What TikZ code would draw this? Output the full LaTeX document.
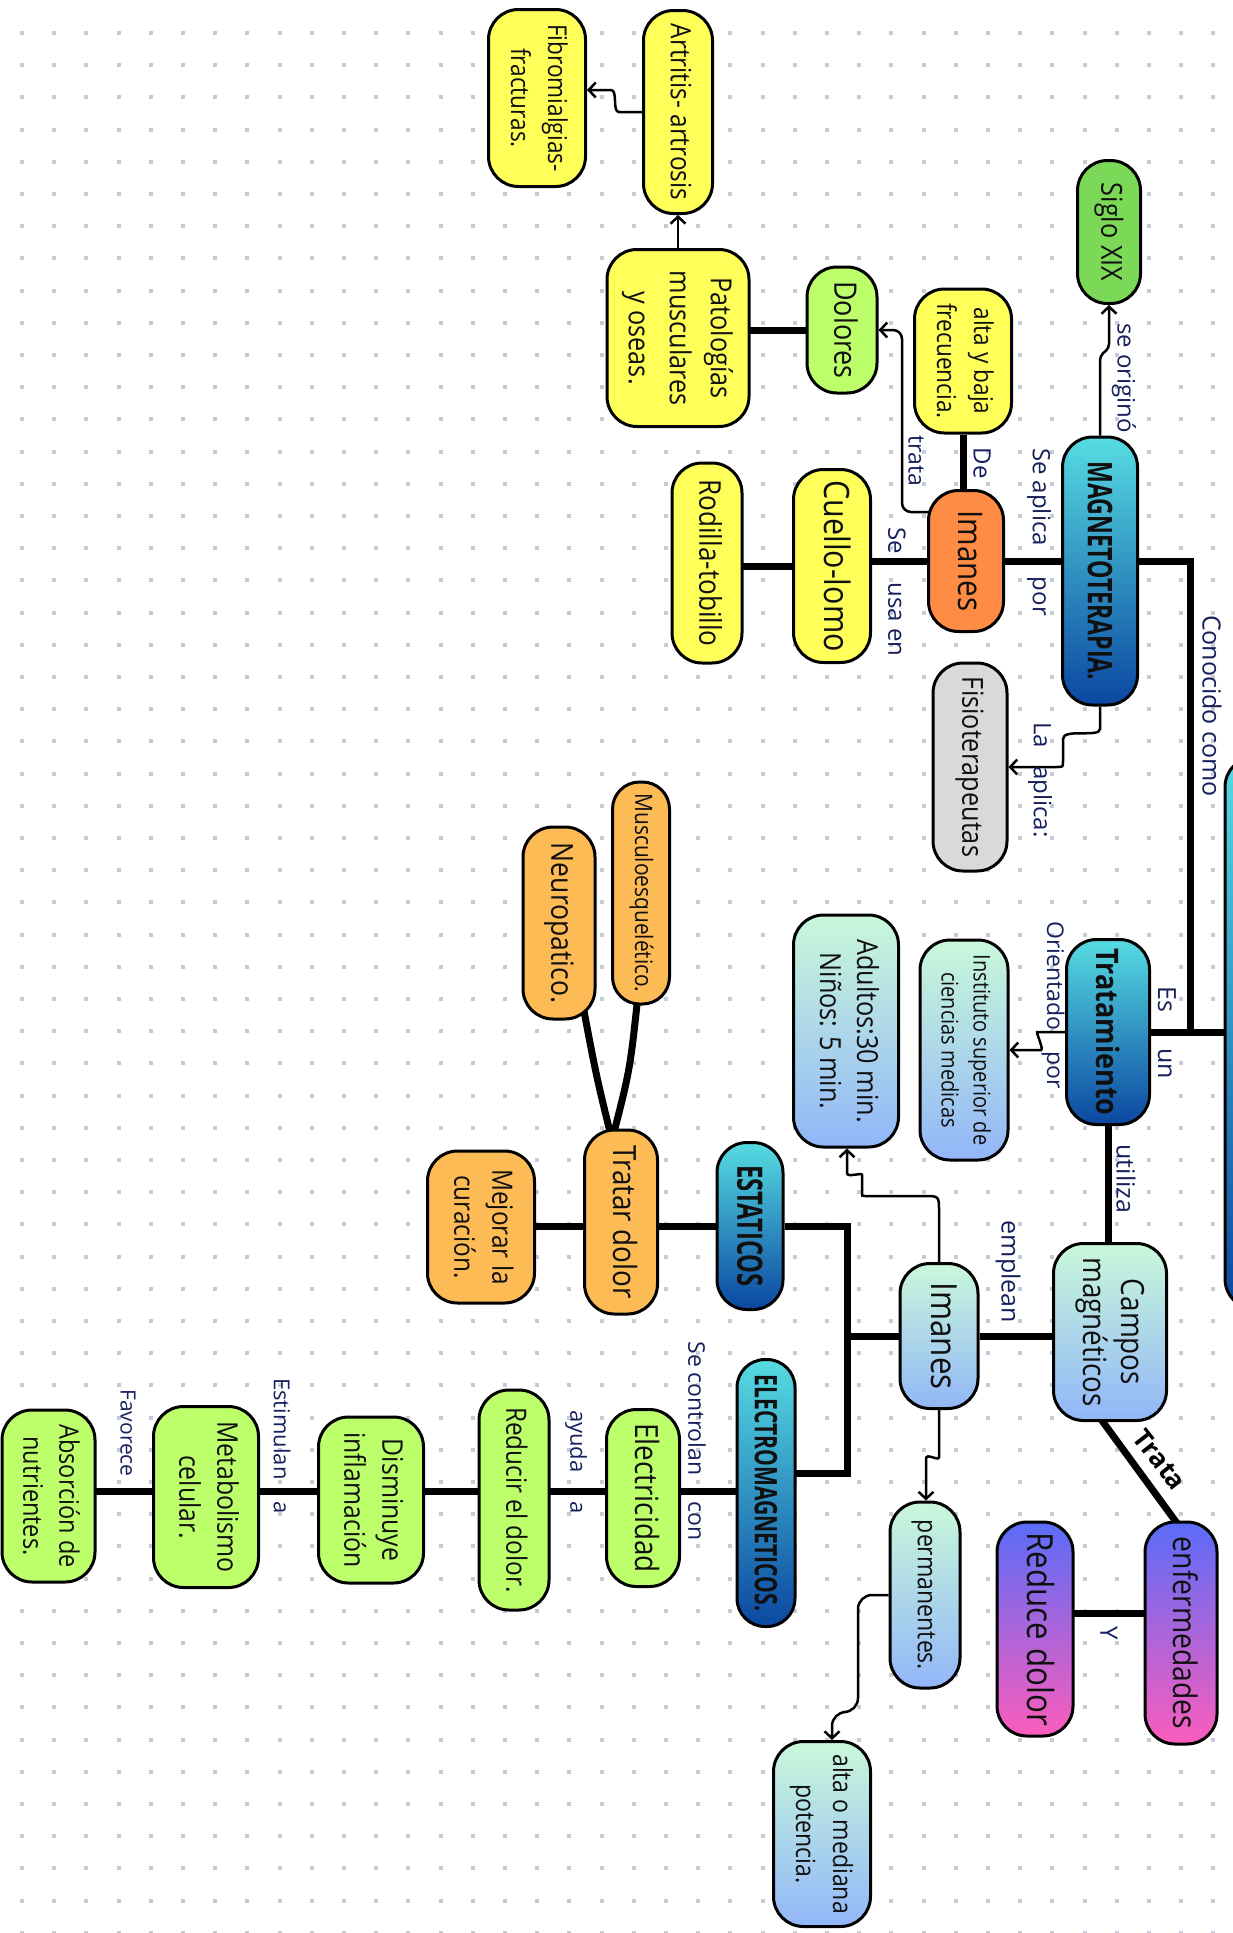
\documentclass[tikz,border=0pt]{standalone}
\usepackage{fontspec}
\setmainfont{Open Sans}
\newfontfamily\nf{Open Sans}[FakeStretch=0.87]
\newfontfamily\cf{Open Sans}[FakeStretch=0.68]
\usetikzlibrary{arrows.meta,backgrounds}
\definecolor{cYel}{HTML}{FFFF5A}
\definecolor{cLgr}{HTML}{BDFF6B}
\definecolor{cSgr}{HTML}{7CD957}
\definecolor{cOrg}{HTML}{FF8C44}
\definecolor{cOrl}{HTML}{FDBB55}
\definecolor{cGry}{HTML}{D9D9D9}
\definecolor{cCy}{HTML}{56DCE2}
\definecolor{cBl}{HTML}{0B47A1}
\definecolor{cMnt}{HTML}{C9F8DA}
\definecolor{cLbl}{HTML}{92B6F8}
\definecolor{cVio}{HTML}{5A6CF8}
\definecolor{cPnk}{HTML}{FB5DBC}
\definecolor{cLab}{HTML}{16205C}
\definecolor{cDot}{HTML}{C6CAD9}
\definecolor{cTx}{HTML}{101010}
\newcommand\rt[3]{\rotatebox{-90}{\nf\fontsize{#1}{#2}\selectfont\begin{tabular}{@{}c@{}}#3\end{tabular}}}
\newcommand\rtc[2]{\rotatebox{-90}{\cf\bfseries\fontsize{#1}{#1}\selectfont #2}}
\newcommand\lt[2]{\rotatebox{-90}{\fontsize{#1}{#1}\selectfont #2}}
\tikzset{
  nd/.style={draw=black, line width=3pt, rounded corners=#1, inner sep=0pt, text=cTx},
  nd/.default=30pt,
  yel/.style={fill=cYel}, lgr/.style={fill=cLgr}, sgr/.style={fill=cSgr},
  org/.style={fill=cOrg}, orl/.style={fill=cOrl}, gry/.style={fill=cGry},
  bgr/.style={top color=cCy, bottom color=cBl},
  mgr/.style={top color=cMnt, bottom color=cLbl},
  vgr/.style={top color=cVio, bottom color=cPnk},
  lab/.style={text=cLab, inner sep=0pt},
  thk/.style={line width=7pt},
  arr/.style={line width=2.5pt, -{Straight Barb[length=7pt,width=15pt]}, rounded corners=9pt},
}
\begin{document}
\begin{tikzpicture}[x=1pt,y=-1pt]
\useasboundingbox (0,0) rectangle (1233,1933);
\begin{pgfonlayer}{background}
\fill[white] (0,0) rectangle (1233,1933);
\foreach \i in {0,...,37}{\foreach \j in {0,...,59}{\fill[cDot] ({20+32.2*\i},{31+32.2*\j}) rectangle ++(4,4);}}
\end{pgfonlayer}

% nodes
\node[nd, sgr, minimum width=63pt, minimum height=143pt] (siglo) at (1109,232) {\rt{29}{38}{Siglo XIX}};
\node[nd, bgr, minimum width=75pt, minimum height=268pt] (mag) at (1100,571) {\rtc{34}{MAGNETOTERAPIA.}};
\node[nd, yel, minimum width=97pt, minimum height=144pt] (ayb) at (963,361) {\rt{26}{37}{alta y baja\\frecuencia.}};
\node[nd, org, minimum width=75pt, minimum height=141pt] (im1) at (966,561) {\rt{34}{40}{Imanes}};
\node[nd, lgr, minimum width=70pt, minimum height=126pt] (dol) at (842,330) {\rt{31}{38}{Dolores}};
\node[nd, yel, minimum width=142pt, minimum height=177pt] (pat) at (678,338) {\rt{29}{41}{Patologías\\musculares\\y oseas.}};
\node[nd, yel, minimum width=69pt, minimum height=203pt] (art) at (678,112) {\rt{28}{36}{Artritis- artrosis}};
\node[nd, yel, minimum width=97pt, minimum height=177pt] (fib) at (537,98) {\rt{26}{37}{Fibromialgias-\\fracturas.}};
\node[nd, yel, minimum width=77pt, minimum height=193pt] (cue) at (832,566) {\rt{35}{40}{Cuello-lomo}};
\node[nd, yel, minimum width=70pt, minimum height=200pt] (rod) at (707,563) {\rt{30}{38}{Rodilla-tobillo}};
\node[nd, gry, minimum width=74pt, minimum height=208pt] (fis) at (970,767) {\rt{29}{38}{Fisioterapeutas}};
\node[nd, bgr, minimum width=80pt, minimum height=552pt] (big) at (1265,1033) {};
\node[nd, bgr, minimum width=83pt, minimum height=185pt] (trat) at (1108,1032) {\rotatebox{-90}{\nf\bfseries\fontsize{31}{31}\selectfont Tratamiento}};
\node[nd, mgr, minimum width=88pt, minimum height=220pt] (inst) at (964,1050) {\rt{23}{32}{Instituto superior de\\ciencias medicas}};
\node[nd, mgr, minimum width=105pt, minimum height=232pt] (adu) at (846,1031) {\rt{29}{37}{Adultos:30 min.\\Niños: 5 min.}};
\node[nd, mgr, minimum width=113pt, minimum height=177pt] (cam) at (1110,1332) {\rt{32}{38}{Campos\\magnéticos}};
\node[nd, mgr, minimum width=78pt, minimum height=145pt] (im2) at (939,1336) {\rt{36}{40}{Imanes}};
\node[nd, bgr, minimum width=66pt, minimum height=167pt] (est) at (750,1226) {\rtc{35}{ESTATICOS}};
\node[nd=28pt, bgr, minimum width=58pt, minimum height=267pt] (ele) at (766,1493) {\rtc{31}{ELECTROMAGNETICOS.}};
\node[nd, mgr, minimum width=70pt, minimum height=186pt] (per) at (925,1595) {\rt{26.5}{36}{permanentes.}};
\node[nd, mgr, minimum width=97pt, minimum height=185pt] (alm) at (822,1834) {\rt{26.5}{37}{alta o mediana\\potencia.}};
\node[nd, vgr, minimum width=72pt, minimum height=222pt] (enf) at (1181,1633) {\rt{32.5}{38}{enfermedades}};
\node[nd, vgr, minimum width=76pt, minimum height=214pt] (red) at (1035,1629) {\rt{36}{40}{Reduce dolor}};
\node[nd, lgr, minimum width=73pt, minimum height=177pt] (elc) at (643,1498) {\rt{32}{38}{Electricidad}};
\node[nd, lgr, minimum width=70pt, minimum height=220pt] (rdd) at (514,1500) {\rt{28}{38}{Reducir el dolor.}};
\node[nd, lgr, minimum width=105pt, minimum height=166pt] (dis) at (371,1500) {\rt{28.5}{38}{Disminuye\\inflamación}};
\node[nd, lgr, minimum width=105pt, minimum height=181pt] (met) at (206,1497) {\rt{28.5}{38}{Metabolismo\\celular.}};
\node[nd, lgr, minimum width=93pt, minimum height=172pt] (abs) at (48.5,1496) {\rt{27}{36}{Absorción de\\nutrientes.}};
\node[nd=27pt, orl, minimum width=57pt, minimum height=222pt] (mus) at (641,893) {\rt{24}{30}{Musculoesquelético.}};
\node[nd, orl, minimum width=72pt, minimum height=192pt] (neu) at (559,923) {\rt{30.5}{38}{Neuropatico.}};
\node[nd, orl, minimum width=73pt, minimum height=184pt] (tra) at (621,1222) {\rt{32}{38}{Tratar dolor}};
\node[nd, orl, minimum width=107pt, minimum height=152pt] (mej) at (481,1227) {\rt{28}{38}{Mejorar la\\curación.}};

% connectors
\begin{pgfonlayer}{background}
\draw[arr, rounded corners=4pt] (mag) -- (1100,356) -- (1109,348) -- (siglo.south);
\draw[thk] (mag |- im1) -- (im1);
\draw[thk] (ayb) -- (ayb |- im1);
\draw[arr] (im1 |- 0,512) -- (902,512) -- (902,330) -- (dol.east);
\draw[thk] (dol) -- (dol -| pat);
\draw[arr] (pat) -- (art.south);
\draw[arr] (art) -- (628,112) .. controls (612,112) and (618,90) .. (602,90) -- (fib.east |- 0,90);
\draw[thk] (im1) -- (im1 -| cue);
\draw[thk] (cue) -- (cue -| rod);
\draw[arr] (mag) -- (1100,720) .. controls (1100,738) and (1063,728) .. (1063,748) -- (1063,752) .. controls (1063,767) .. (1048,767) -- (fis.east);
\draw[thk] (mag |- im1) -- (1190,561) -- (1190,1032);
\draw[thk] (trat) -- (trat -| big);
\draw[arr] (trat) -- (1046,1032) .. controls (1036,1032) and (1044,1050) .. (1032,1050) -- (inst.east);
\draw[thk] (trat) -- (trat |- cam);
\draw[thk] (cam |- im2) -- (im2);
\draw[thk] (im2) -- (847,1336);
\draw[thk] (est) -- (847,1226) -- (847,1473) -- (ele |- 0,1473);
\draw[thk] (est) -- (est -| mej);
\draw[thk] (612,1140) .. controls (596,1075) .. (581,995);
\draw[thk] (612,1140) .. controls (630,1070) .. (638,995);
\draw[arr] (im2) -- (939,1220) .. controls (939,1196) .. (915,1196) -- (874,1196) .. controls (862,1196) .. (862,1184) .. controls (862,1172) and (847,1178) .. (847,1164) -- (adu.south -| 847,0);
\draw[arr] (im2) -- (939,1448) .. controls (939,1462) and (926,1452) .. (926,1468) -- (per.north -| 926,0);
\draw[arr, rounded corners=14pt] (per) -- (858,1595) -- (858,1712) -- (832,1712) -- (alm.north -| 832,0);
\draw[thk, shorten <=-8pt, shorten >=-8pt] (cam.south -| 1103,0) -- (enf.north -| 1175,0);
\draw[thk] (enf |- 0,1613) -- (red |- 0,1613);
\draw[thk] (ele |- 0,1491) -- (abs |- 0,1491);
\end{pgfonlayer}

% labels
\node[lab] (l1) at (1124,378) {\lt{24}{se originó}};
\node[lab] (l2) at (1039,532) {\lt{24}{Se aplica\hspace{31pt}por}};
\node[lab] (l3) at (982,463) {\lt{24}{De}};
\node[lab] (l4) at (916,461) {\lt{23}{trata}};
\node[lab] (l5) at (897,592) {\lt{24}{Se\hspace{28pt}usa en}};
\node[lab] (l6) at (1040,780) {\lt{24}{La\hspace{18pt}aplica:}};
\node[lab] (l7) at (1212,706) {\lt{25}{Conocido como}};
\node[lab] (l8) at (1167,1033) {\lt{25}{Es\hspace{36pt}un}};
\node[lab] (l9) at (1053,1005) {\lt{23}{Orientado\hspace{21pt}por}};
\node[lab] (l10) at (1126,1179) {\lt{25}{utiliza}};
\node[lab] (l11) at (1008,1272) {\lt{25}{emplean}};
\node[inner sep=0pt, text=black] (l12) at (1160,1460) {\rotatebox{-52}{\bfseries\fontsize{26}{26}\selectfont Trata}};
\node[lab] (l13) at (1109,1633) {\lt{24}{Y}};
\node[lab] (l14) at (697,1441) {\lt{23}{Se controlan\hspace{26pt}con}};
\node[lab] (l15) at (576,1462) {\lt{22}{ayuda\hspace{29pt}a}};
\node[lab] (l16) at (282,1446) {\lt{22}{Estimulan\hspace{22pt}a}};
\node[lab] (l17) at (128,1433) {\lt{21}{Favorece}};
\end{tikzpicture}
\end{document}
